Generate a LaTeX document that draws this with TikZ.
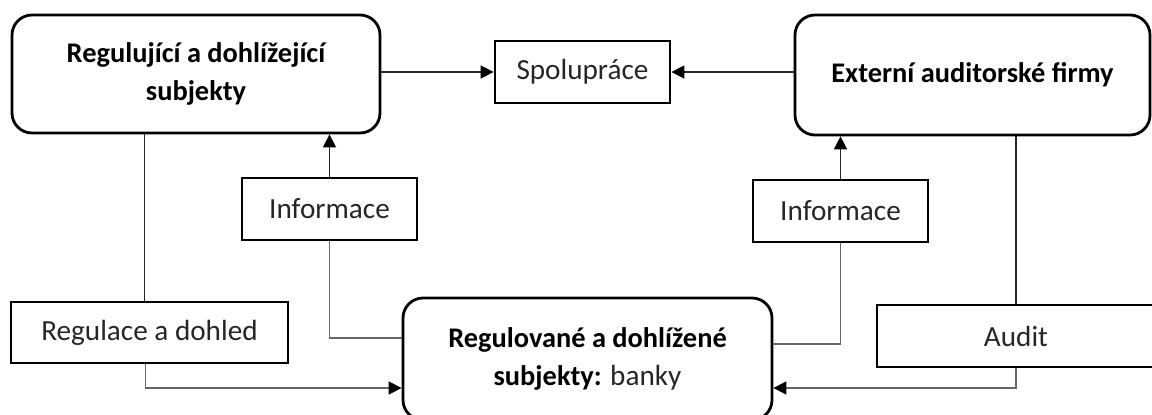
\documentclass[tikz,border=0pt]{standalone}
\usepackage{fontspec}
\setmainfont{Carlito}
\usetikzlibrary{arrows.meta}
\begin{document}
\begin{tikzpicture}[x=0.5pt,y=-0.5pt,
  box/.style={draw, line width=1.4pt, inner sep=0pt, align=center, text=black!85, font=\fontsize{14.6}{19}\selectfont},
  rbox/.style={box, rounded corners=10pt, text=black, font=\fontsize{14.2}{19}\selectfont},
  conn/.style={line width=0.8pt, draw=black!85},
  connlt/.style={line width=0.8pt, draw=black!60},
  arr/.style={-{Triangle[length=6.5pt,width=6.5pt,color=black]}}]
\useasboundingbox (0,0) rectangle (1152,414);
\node[rbox, minimum width=184pt, minimum height=59pt] (A) at (196,74) {\bfseries Regulující a dohlížející\\\bfseries subjekty};
\node[box, minimum width=87.5pt, minimum height=31pt] (S) at (582.5,72) {Spolupráce};
\node[rbox, minimum width=177.5pt, minimum height=60pt] (E) at (972.5,75) {\bfseries Externí auditorské firmy};
\node[box, minimum width=87.5pt, minimum height=31pt] (I1) at (329.5,209) {Informace};
\node[box, minimum width=87.5pt, minimum height=31pt] (I2) at (840.5,211) {Informace};
\node[box, minimum width=138.5pt, minimum height=30.5pt] (R) at (149.5,332.5) {Regulace a dohled};
\node[rbox, minimum width=184.5pt, minimum height=61pt] (B) at (587.5,359) {\bfseries Regulované a dohlížené\\\textbf{subjekty:} \mdseries\color{black!85}\fontsize{14.6}{19}\selectfont banky};
\node[box, minimum width=139pt, minimum height=31pt] (Au) at (1016,336) {Audit};
% top arrows to Spolupráce
\draw[conn,arr] (A.east |- S.west) -- (S.west);
\draw[conn,arr] (E.west |- S.east) -- (S.east);
% vertical links
\draw[conn] (R.north) ++(-5,0) coordinate (rn) -- (rn |- A.south);
\draw[conn,arr] (I1.north) -- (I1.north |- A.south);
\draw[conn,arr] (I2.north) -- (I2.north |- E.south);
\draw[conn] (Au.north) -- (Au.north |- E.south);
% links into the banks
\draw[connlt] (I1.south) |- ([yshift=10.5pt]B.west);
\draw[connlt] (I2.south) |- ([yshift=7.5pt]B.east);
\draw[connlt,arr] (R.south) ++(-4,0) coordinate (rs) |- ([yshift=-14.5pt]B.west);
\draw[connlt,arr] (Au.south) |- ([yshift=-14.5pt]B.east);
\end{tikzpicture}
\end{document}
